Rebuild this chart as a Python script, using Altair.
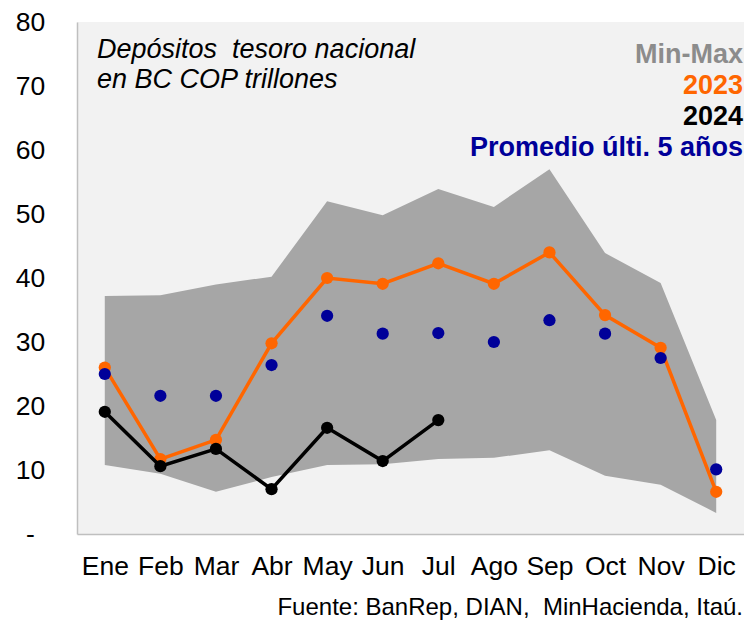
import altair as alt
import pandas as pd

months = ["Ene", "Feb", "Mar", "Abr", "May", "Jun", "Jul", "Ago", "Sep", "Oct", "Nov", "Dic"]
max_vals = [37.2, 37.3, 39.0, 40.2, 52.0, 49.8, 53.9, 51.1, 57.0, 43.9, 39.2, 17.8]
min_vals = [10.8, 9.4, 6.6, 8.9, 10.8, 10.9, 11.7, 11.9, 13.1, 9.1, 7.7, 3.3]
y2023 = [26.0, 11.7, 14.7, 29.8, 40.0, 39.1, 42.3, 39.1, 44.0, 34.2, 29.1, 6.6]
y2024 = [19.1, 10.6, 13.3, 7.0, 16.6, 11.4, 17.8]
avg5 = [25.0, 21.6, 21.6, 26.4, 34.1, 31.3, 31.4, 30.0, 33.4, 31.3, 27.5, 10.1]

title_lines = ["Depósitos\u00a0 tesoro nacional", "en BC COP trillones"]
leg_labels = ["Min-Max", "2023", "2024", "Promedio últi. 5 años"]
source_text = "Fuente: BanRep, DIAN,\u00a0 MinHacienda, Itaú."

FONT = "Liberation Sans"
ORANGE = "#ff6600"
NAVY = "#000099"
W, H = 667, 512
DOT = 150

band = pd.DataFrame({"mes": months, "min": min_vals, "max": max_vals})
d23 = pd.DataFrame({"mes": months, "v": y2023})
d24 = pd.DataFrame({"mes": months[:len(y2024)], "v": y2024})
dav = pd.DataFrame({"mes": months, "v": avg5})

x = alt.X("mes:N", sort=months, scale=alt.Scale(padding=0.5),
          axis=alt.Axis(title=None, labelAngle=0, labelFontSize=26.5, labelFont=FONT,
                        labelColor="black", ticks=False, labelPadding=19,
                        domainColor="#bfbfbf", domainWidth=1.5))
yscale = alt.Scale(domain=[0, 80], nice=False)
yaxis = alt.Axis(title=None, values=[0, 10, 20, 30, 40, 50, 60, 70, 80], grid=False,
                 ticks=False, labelFontSize=26.5, labelFont=FONT, labelColor="black",
                 labelAlign="center", labelPadding=47,
                 labelExpr="datum.value == 0 ? '-' : datum.label",
                 domainColor="#bfbfbf", domainWidth=1.5)

area = alt.Chart(band).mark_area(color="#a6a6a6", opacity=1).encode(
    x=x, y=alt.Y("min:Q", scale=yscale, axis=yaxis), y2="max:Q")

l23 = alt.Chart(d23).mark_line(color=ORANGE, strokeWidth=3.5).encode(x=x, y=alt.Y("v:Q", scale=yscale))
p23 = alt.Chart(d23).mark_circle(color=ORANGE, size=DOT, opacity=1).encode(x=x, y=alt.Y("v:Q", scale=yscale))
l24 = alt.Chart(d24).mark_line(color="black", strokeWidth=3.5).encode(x=x, y=alt.Y("v:Q", scale=yscale))
p24 = alt.Chart(d24).mark_circle(color="black", size=DOT, opacity=1).encode(x=x, y=alt.Y("v:Q", scale=yscale))
pav = alt.Chart(dav).mark_circle(color=NAVY, size=DOT, opacity=1).encode(x=x, y=alt.Y("v:Q", scale=yscale))

leg_colors = ["#8c8c8c", ORANGE, "black", NAVY]
legs = []
for i, (lab, col) in enumerate(zip(leg_labels, leg_colors)):
    legs.append(alt.Chart(pd.DataFrame({"t": [lab]})).mark_text(
        align="right", baseline="middle", fontWeight="bold", fontSize=27, font=FONT, color=col
    ).encode(x=alt.value(W - 1), y=alt.value(33 + i * 31), text="t:N"))

titles = []
for i, line in enumerate(title_lines):
    titles.append(alt.Chart(pd.DataFrame({"t": [line]})).mark_text(
        align="left", baseline="middle", fontStyle="italic", fontSize=27, font=FONT, color="black"
    ).encode(x=alt.value(20), y=alt.value(28 + i * 30), text="t:N"))

src = alt.Chart(pd.DataFrame({"t": [source_text]})).mark_text(
    align="right", baseline="alphabetic", fontSize=24, font=FONT, color="black"
).encode(x=alt.value(W - 1), y=alt.value(593), text="t:N")

chart = alt.layer(area, l23, p23, l24, p24, pav, *titles, *legs, src).properties(
    width=W, height=H,
    autosize=alt.AutoSizeParams(type="none"),
    padding={"left": 69, "top": 14, "right": 0, "bottom": 86},
).configure_view(fill="#f2f2f2", stroke=None)

chart.save("out.html", embed_options={"renderer": "svg", "actions": False})
